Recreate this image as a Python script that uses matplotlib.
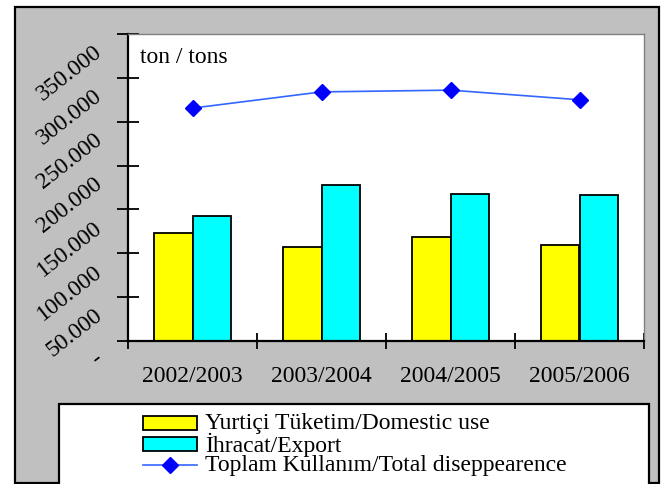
import matplotlib
matplotlib.use("Agg")
import matplotlib.pyplot as plt
import matplotlib.transforms as mtransforms
from matplotlib.patches import Rectangle
from matplotlib.lines import Line2D
import numpy as np

plt.rcParams['font.family'] = ['Liberation Serif', 'DejaVu Serif']

# data (tons)
seasons = ["2002/2003", "2003/2004", "2004/2005", "2005/2006"]
domestic = [122700, 106700, 118000, 109000]
export = [142800, 177300, 168000, 166000]
total = [265500, 284000, 286000, 275000]
ytick_vals = [0, 50000, 100000, 150000, 200000, 250000, 300000, 350000]
ytick_text = ["-", "50.000", "100.000", "150.000", "200.000", "250.000", "300.000", "350.000"]
legend_labels = ["Yurtiçi Tüketim/Domestic use", "İhracat/Export",
                 "Toplam Kullanım/Total diseppearence"]

W, H = 664, 485
FS = 17
fig = plt.figure(figsize=(W / 100, H / 100), dpi=100)
fig.patch.set_facecolor('white')

def px(x, y):
    return (x / W, 1 - y / H)

# grey chart area with black border
x0, y0 = px(15, 484)
fig.patches.append(Rectangle((x0, y0), 644 / W, 476 / H, transform=fig.transFigure,
                             facecolor='#C0C0C0', edgecolor='black', linewidth=1.6, zorder=-1))

ax = fig.add_axes([128 / W, 1 - 342 / H, 516 / W, 307 / H])
ax.set_zorder(1)
ax.set_facecolor('white')

x = np.arange(len(seasons))
bw = 0.295
ax.bar(x - bw / 2, domestic, bw, color='#FFFF00', edgecolor='black', linewidth=1.3, zorder=2)
ax.bar(x + bw / 2, export, bw, color='#00FFFF', edgecolor='black', linewidth=1.3, zorder=2)
ax.plot(x, total, color='#3366FF', linewidth=1.2, marker='D', markersize=8.5,
        markerfacecolor='#0000FF', markeredgecolor='#0000FF', zorder=3)

ax.set_xlim(-0.5, len(seasons) - 0.5)
ax.set_ylim(0, 350000)

# x axis: ticks at category boundaries, labels centred
ax.set_xticks(np.arange(len(seasons) + 1) - 0.5)
ax.set_xticklabels([])
ax.set_xticks(x, minor=True)
ax.set_xticklabels(seasons, minor=True, fontsize=FS)
ax.tick_params(axis='x', which='major', direction='inout', length=11, width=1.3, color='black')
ax.tick_params(axis='x', which='minor', length=0, pad=17)

# y axis: rotated labels drawn as text
ax.set_yticks(ytick_vals)
ax.set_yticklabels([])
ax.tick_params(axis='y', direction='inout', length=16, width=1.3, color='black')
off = mtransforms.ScaledTranslation(-28 / 100, -15 / 100, fig.dpi_scale_trans)
for v, t in zip(ytick_vals, ytick_text):
    ax.text(0, v, t, transform=ax.get_yaxis_transform() + off, rotation=38,
            rotation_mode='anchor', ha='right', va='center', fontsize=FS)

for s in ['left', 'bottom']:
    ax.spines[s].set_color('black')
    ax.spines[s].set_linewidth(1.6)
for s in ['top', 'right']:
    ax.spines[s].set_color('#808080')
    ax.spines[s].set_linewidth(1.0)

ax.text(12 / 516, 1 - 22 / 307, "ton / tons", transform=ax.transAxes,
        ha='left', va='center', fontsize=FS)

# legend box
lx, ly = px(59, 490)
fig.patches.append(Rectangle((lx, ly), 590 / W, 85 / H, transform=fig.transFigure,
                             facecolor='white', edgecolor='black', linewidth=1.6, zorder=1))
rows = [424, 445, 466]
colors = ['#FFFF00', '#00FFFF']
for i in range(2):
    px0, py0 = px(143, rows[i] + 7)
    fig.patches.append(Rectangle((px0, py0), 54 / W, 14 / H, transform=fig.transFigure,
                                 facecolor=colors[i], edgecolor='black', linewidth=1.3, zorder=2))
lxa, lya = px(143, rows[2])
lxb, _ = px(197, rows[2])
fig.lines.append(Line2D([lxa, lxb], [lya, lya], transform=fig.transFigure, color='#3366FF',
                        linewidth=1.2, zorder=2))
mx, my = px(170, rows[2])
fig.lines.append(Line2D([mx], [my], transform=fig.transFigure, marker='D', markersize=8.5,
                        markerfacecolor='#0000FF', markeredgecolor='#0000FF', zorder=3))
for r, lab in zip(rows, legend_labels):
    tx, ty = px(205, r)
    fig.text(tx, ty, lab, ha='left', va='center', fontsize=FS, zorder=3)

fig.savefig("out.png", dpi=100)
